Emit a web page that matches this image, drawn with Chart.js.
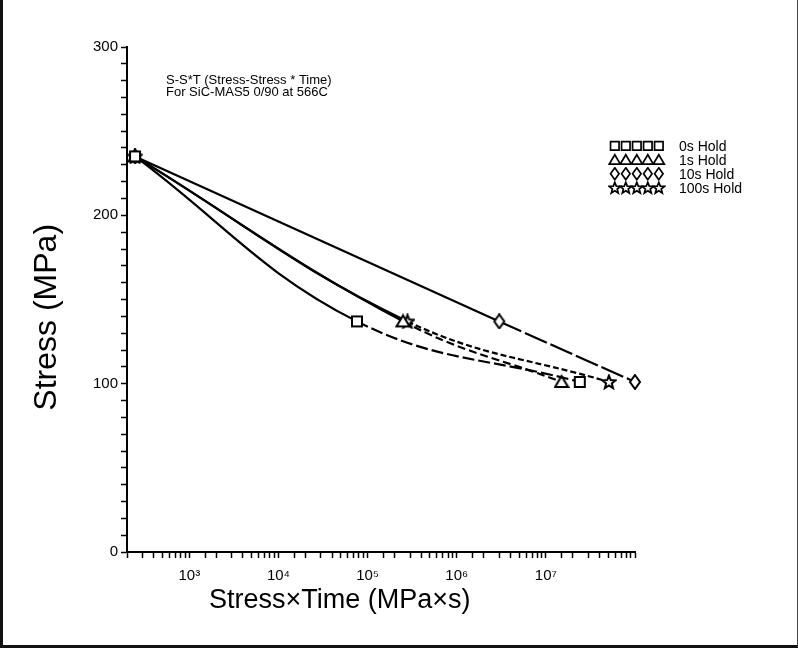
<!DOCTYPE html>
<html><head><meta charset="utf-8">
<script src="https://cdn.jsdelivr.net/npm/chart.js@4.4.1/dist/chart.umd.min.js"></script>
<style>
html,body{margin:0;padding:0;background:#fff;overflow:hidden}
#wrap{position:relative;width:798px;height:648px}
#frame{position:absolute;left:0;top:0;width:798px;height:648px;box-sizing:border-box;border-left:3px solid #111;border-bottom:3px solid #111;border-right:1px solid #444;pointer-events:none}
</style></head><body>
<div id="wrap"><canvas id="c"></canvas><div id="frame"></div></div>
<script>
// ---- data ----
const seriesLabels = ['0s Hold', '1s Hold', '10s Hold', '100s Hold'];
const hold0x = [246, 7.6e4, 2.4e7];
const hold0y = [235, 137, 101];
const hold1x = [246, 2.5e5, 1.5e7];
const hold1y = [235, 137, 101];
const hold10x = [246, 3.0e6, 1.0e8];
const hold10y = [235, 137, 101];
const hold100x = [246, 2.8e5, 5.1e7];
const hold100y = [235, 137, 101];
const xTickPowers = [3, 4, 5, 6, 7];
const yTickLabels = [0, 100, 200, 300];
const titleLines = ['S-S*T (Stress-Stress * Time)', 'For SiC-MAS5 0/90 at 566C'];
const xAxisTitle = 'Stress\u00d7Time (MPa\u00d7s)';
const yAxisTitle = 'Stress (MPa)';

const FONT = '"Liberation Sans", "DejaVu Sans", sans-serif';

// ---- marker images ----
function makeMarker(kind, sc) {
  const c = document.createElement('canvas');
  const n = Math.round(16 * sc);
  c.width = n; c.height = n;
  const g = c.getContext('2d');
  g.scale(sc, sc);
  g.lineWidth = 2; g.strokeStyle = '#000'; g.fillStyle = '#fff';
  g.beginPath();
  if (kind === 'square') {
    g.rect(3, 3, 10, 10);
  } else if (kind === 'triangle') {
    g.moveTo(8, 2); g.lineTo(14.5, 13); g.lineTo(1.5, 13); g.closePath();
  } else if (kind === 'diamond') {
    g.moveTo(8, 1); g.lineTo(13, 8); g.lineTo(8, 15); g.lineTo(3, 8); g.closePath();
  } else {
    const cx = 8, cy = 8.5, ro = 7, ri = 3;
    for (let i = 0; i < 10; i++) {
      const r = i % 2 ? ri : ro;
      const a = -Math.PI / 2 + i * Math.PI / 5;
      const px = cx + r * Math.cos(a), py = cy + r * Math.sin(a);
      if (i === 0) g.moveTo(px, py); else g.lineTo(px, py);
    }
    g.closePath();
  }
  g.fill(); g.stroke();
  return c;
}
const kinds = ['square', 'triangle', 'diamond', 'star'];
const markers = kinds.map(k => makeMarker(k, 1));
const legendMarkers = kinds.map(k => makeMarker(k, 0.85));
const dashes = [[12, 4], [8, 4], [24, 4], [6, 3]];
const xs = [hold0x, hold1x, hold10x, hold100x];
const ys = [hold0y, hold1y, hold10y, hold100y];

const datasets = seriesLabels.map((lab, i) => ({
  label: lab,
  data: xs[i].map((x, j) => ({ x: x, y: ys[i][j] })),
  borderColor: '#000',
  borderWidth: 2.2,
  tension: 0.4,
  pointStyle: markers[i],
  pointRadius: 6,
  clip: false,
  segment: { borderDash: ctx => ctx.p0DataIndex >= 1 ? dashes[i] : undefined }
}));

const sup = { 3: '\u00b3', 4: '\u2074', 5: '\u2075', 6: '\u2076', 7: '\u2077' };

const annotPlugin = {
  id: 'annot',
  afterDraw(chart) {
    const ctx = chart.ctx;
    ctx.save();
    ctx.fillStyle = '#000';
    ctx.textBaseline = 'middle';
    ctx.textAlign = 'left';
    ctx.font = '13px ' + FONT;
    titleLines.forEach((t, i) => ctx.fillText(t, 166, 80 + i * 12));
    // legend
    ctx.font = '14px ' + FONT;
    chart.data.datasets.forEach((ds, i) => {
      const y = 146 + i * 14;
      const m = legendMarkers[i];
      for (let k = 0; k < 5; k++) {
        ctx.drawImage(m, 615 + k * 11 - m.width / 2, y - m.height / 2);
      }
      ctx.fillText(ds.label, 679, y + 1);
    });
    ctx.restore();
  }
};

new Chart(document.getElementById('c'), {
  type: 'line',
  data: { datasets: datasets },
  plugins: [annotPlugin],
  options: {
    responsive: true,
    maintainAspectRatio: false,
    animation: false,
    layout: { padding: { top: 47, right: 163, bottom: 0, left: 0 } },
    plugins: { legend: { display: false }, tooltip: { enabled: false } },
    scales: {
      x: {
        type: 'logarithmic',
        min: 200,
        max: 1e8,
        afterFit: s => { s.height = 96; },
        border: { color: '#000', width: 2 },
        grid: { drawOnChartArea: false, color: '#000', tickLength: 6, tickWidth: 1.5 },
        ticks: {
          autoSkip: false, maxRotation: 0, color: '#000', padding: 9,
          font: { family: FONT, size: 15 },
          callback: v => {
            const p = Math.round(Math.log10(v));
            if (Math.abs(Math.log10(v) - p) < 1e-9 && xTickPowers.includes(p)) return '10' + sup[p];
            return '';
          }
        },
        title: {
          display: true, text: xAxisTitle + '           ', color: '#000',
          font: { family: FONT, size: 27 },
          padding: { top: 0, bottom: 31 }
        }
      },
      y: {
        min: 0, max: 300,
        afterFit: s => { s.width = 127; },
        border: { color: '#000', width: 2 },
        grid: { drawOnChartArea: false, color: '#000', tickLength: 6, tickWidth: 1.5 },
        ticks: {
          stepSize: 10, autoSkip: false, color: '#000', padding: 3,
          font: { family: FONT, size: 15 },
          callback: v => yTickLabels.includes(v) ? String(v) : ''
        },
        title: {
          display: true, text: yAxisTitle + '    ', color: '#000',
          font: { family: FONT, size: 32 },
          padding: { top: 28, bottom: 0 }
        }
      }
    }
  }
});
</script>
</body></html>
